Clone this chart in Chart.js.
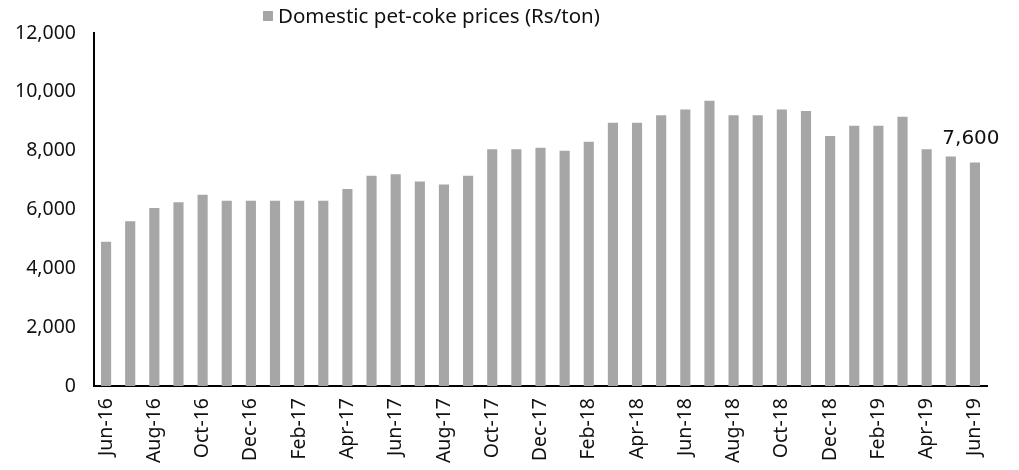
<!DOCTYPE html>
<html>
<head>
<meta charset="utf-8">
<script src="https://cdn.jsdelivr.net/npm/chart.js@4/dist/chart.umd.min.js"></script>
<style>
  body { margin: 0; background: #fff; }
  #wrap { position: relative; width: 1019px; height: 470px; }
  #legend { position: absolute; left: 263px; top: 1px; font: 20.5px "Noto Sans", sans-serif; color: #111; white-space: nowrap; }
  #legend span.box { display: inline-block; width: 10px; height: 10px; background: #A6A6A6; margin-right: 5px; vertical-align: 2px; }
</style>
</head>
<body>
<div id="wrap">
  <canvas id="priceChart" width="1019" height="470"></canvas>
  <div id="legend"><span class="box"></span>Domestic pet-coke prices (Rs/ton)</div>
</div>
<script>
const months = [
  "Jun-16","Jul-16","Aug-16","Sep-16","Oct-16","Nov-16","Dec-16","Jan-17","Feb-17","Mar-17",
  "Apr-17","May-17","Jun-17","Jul-17","Aug-17","Sep-17","Oct-17","Nov-17","Dec-17","Jan-18",
  "Feb-18","Mar-18","Apr-18","May-18","Jun-18","Jul-18","Aug-18","Sep-18","Oct-18","Nov-18",
  "Dec-18","Jan-19","Feb-19","Mar-19","Apr-19","May-19","Jun-19"
];
const prices = [
  4900, 5600, 6050, 6250, 6500, 6300, 6300, 6300, 6300, 6300,
  6700, 7150, 7200, 6950, 6850, 7150, 8050, 8050, 8100, 8000,
  8300, 8950, 8950, 9200, 9400, 9700, 9200, 9200, 9400, 9350,
  8500, 8850, 8850, 9150, 8050, 7800, 7600
];
const yTicks = [0, 2000, 4000, 6000, 8000, 10000, 12000];

const lastLabel = {
  id: "lastLabel",
  afterDatasetsDraw(chart) {
    const ctx = chart.ctx;
    const bar = chart.getDatasetMeta(0).data[prices.length - 1];
    ctx.save();
    ctx.font = "20px 'DejaVu Sans'";
    ctx.fillStyle = "#111";
    ctx.textAlign = "center";
    ctx.textBaseline = "bottom";
    ctx.fillText(prices[prices.length - 1].toLocaleString("en-US"), bar.x - 4, bar.y - 14);
    ctx.restore();
  }
};

new Chart(document.getElementById("priceChart"), {
  type: "bar",
  data: {
    labels: months,
    datasets: [{
      label: "Domestic pet-coke prices (Rs/ton)",
      data: prices,
      backgroundColor: "#A6A6A6",
      barPercentage: 0.42,
      categoryPercentage: 1
    }]
  },
  options: {
    responsive: false,
    animation: false,
    layout: { padding: { top: 33, right: 32, left: 0, bottom: 0 } },
    plugins: {
      legend: { display: false },
      tooltip: { enabled: false }
    },
    scales: {
      x: {
        grid: { display: false, drawTicks: false },
        border: { color: "#000", width: 2 },
        ticks: {
          autoSkip: false,
          maxRotation: 90,
          minRotation: 90,
          padding: 12,
          color: "#111",
          font: { family: "Noto Sans", size: 19.5 },
          callback: (v, i) => i % 2 === 0 ? months[i] : ""
        },
        afterFit: s => { s.height = 84; }
      },
      y: {
        min: 0,
        max: 12000,
        grid: { display: false, drawTicks: false },
        border: { color: "#000", width: 2 },
        afterBuildTicks: s => { s.ticks = yTicks.map(v => ({ value: v })); },
        ticks: {
          padding: 18,
          color: "#111",
          font: { family: "Noto Sans", size: 19.5 },
          callback: v => v.toLocaleString("en-US")
        },
        afterFit: s => { s.width = 94; }
      }
    }
  },
  plugins: [lastLabel]
});
</script>
</body>
</html>
